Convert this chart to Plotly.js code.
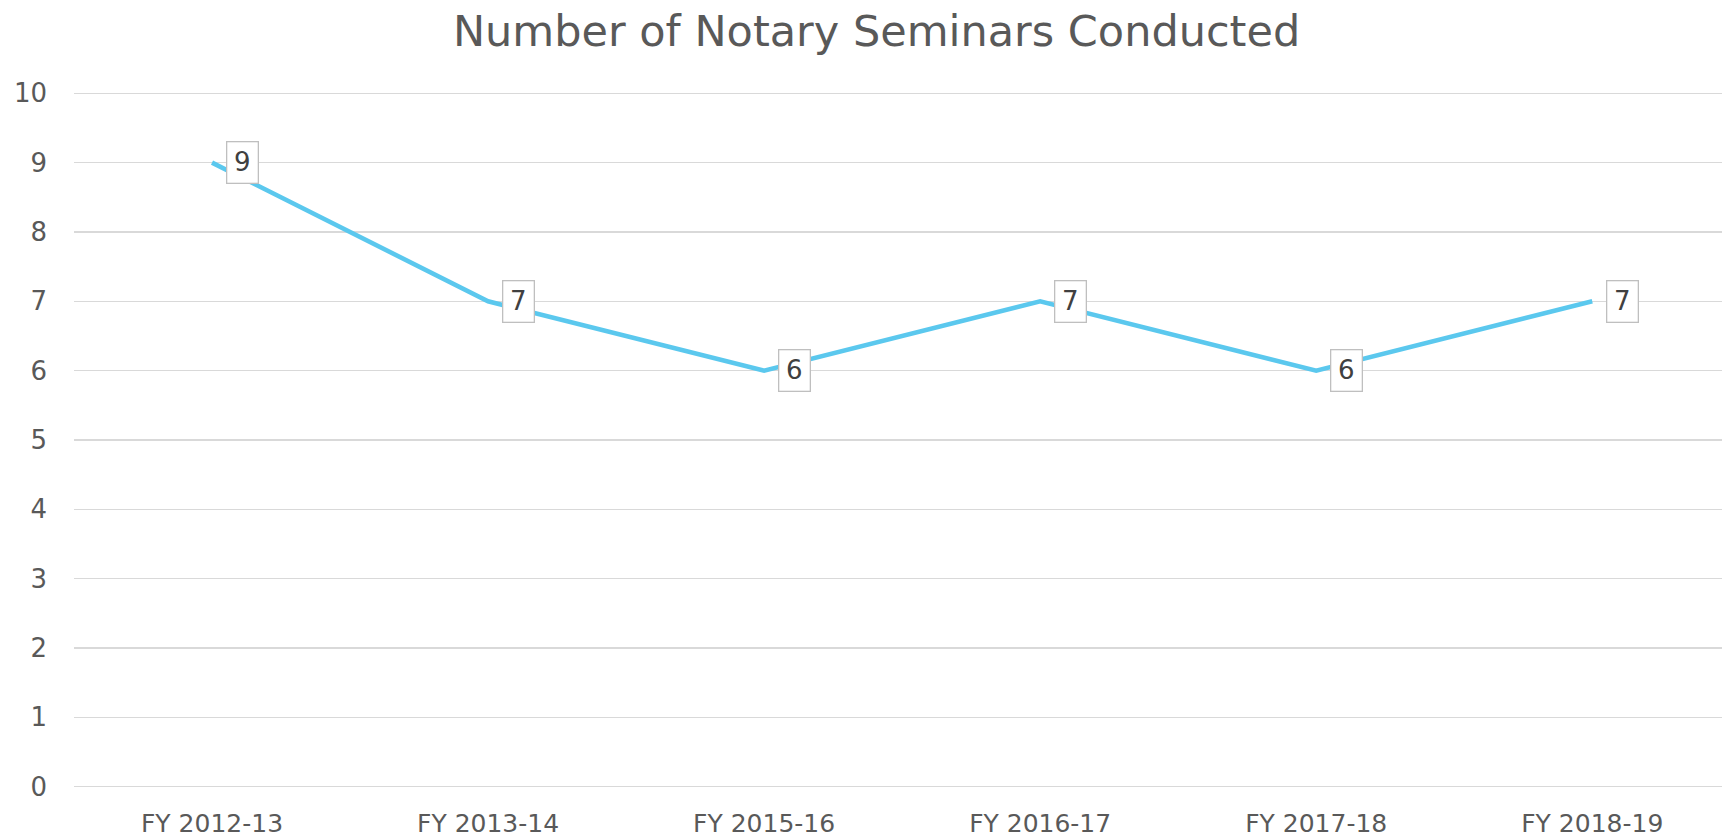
<!DOCTYPE html>
<html>
<head>
<meta charset="utf-8">
<script src="https://cdn.plot.ly/plotly-3.0.1.min.js"></script>
<style>html,body{margin:0;padding:0;background:#fff;}#chart{width:1722px;height:838px;}</style>
</head>
<body>
<div id="chart"></div>
<script>
const categories = ["FY 2012-13", "FY 2013-14", "FY 2015-16", "FY 2016-17", "FY 2017-18", "FY 2018-19"];
const seminars = [9, 7, 6, 7, 6, 7];
const yTicks = [0, 1, 2, 3, 4, 5, 6, 7, 8, 9, 10];
const chartTitle = "Number of Notary Seminars Conducted";

const FONT = "DejaVu Sans, Verdana, sans-serif";

const annotations = categories.map((c, i) => ({
  x: c, y: seminars[i], xref: 'x', yref: 'y',
  text: String(seminars[i]), showarrow: false,
  xanchor: 'left', yanchor: 'middle', xshift: 14,
  font: {family: FONT, size: 26, color: '#404040'},
  bgcolor: '#ffffff', bordercolor: '#bfbfbf', borderwidth: 1.3, borderpad: 1,
  width: 28, height: 38
}));

const trace = {
  x: categories, y: seminars, type: 'scatter', mode: 'lines',
  line: {color: '#5bc8ee', width: 4.6},
  hoverinfo: 'skip'
};

const layout = {
  width: 1722, height: 838,
  margin: {l: 74, r: 0, t: 88, b: 46},
  paper_bgcolor: '#ffffff', plot_bgcolor: '#ffffff',
  showlegend: false,
  title: {
    text: chartTitle, xref: 'paper', x: 0.487, xanchor: 'center',
    yref: 'container', y: 1 - 31/838, yanchor: 'middle',
    font: {family: FONT, size: 43, color: '#595959'}
  },
  xaxis: {
    type: 'category', range: [-0.5, 5.47],
    showgrid: false, zeroline: false, showline: false,
    ticks: '', ticklabelstandoff: 14,
    tickfont: {family: FONT, size: 25, color: '#595959'}
  },
  yaxis: {
    range: [-0.0764, 10.0764], tickvals: yTicks,
    showgrid: true, gridcolor: '#d9d9d9', gridwidth: 1.3,
    zeroline: false, showline: false, ticks: '',
    ticklabelstandoff: 26,
    tickfont: {family: FONT, size: 26, color: '#595959'}
  },
  annotations: annotations
};

Plotly.newPlot('chart', [trace], layout, {staticPlot: true, displayModeBar: false});
</script>
</body>
</html>
